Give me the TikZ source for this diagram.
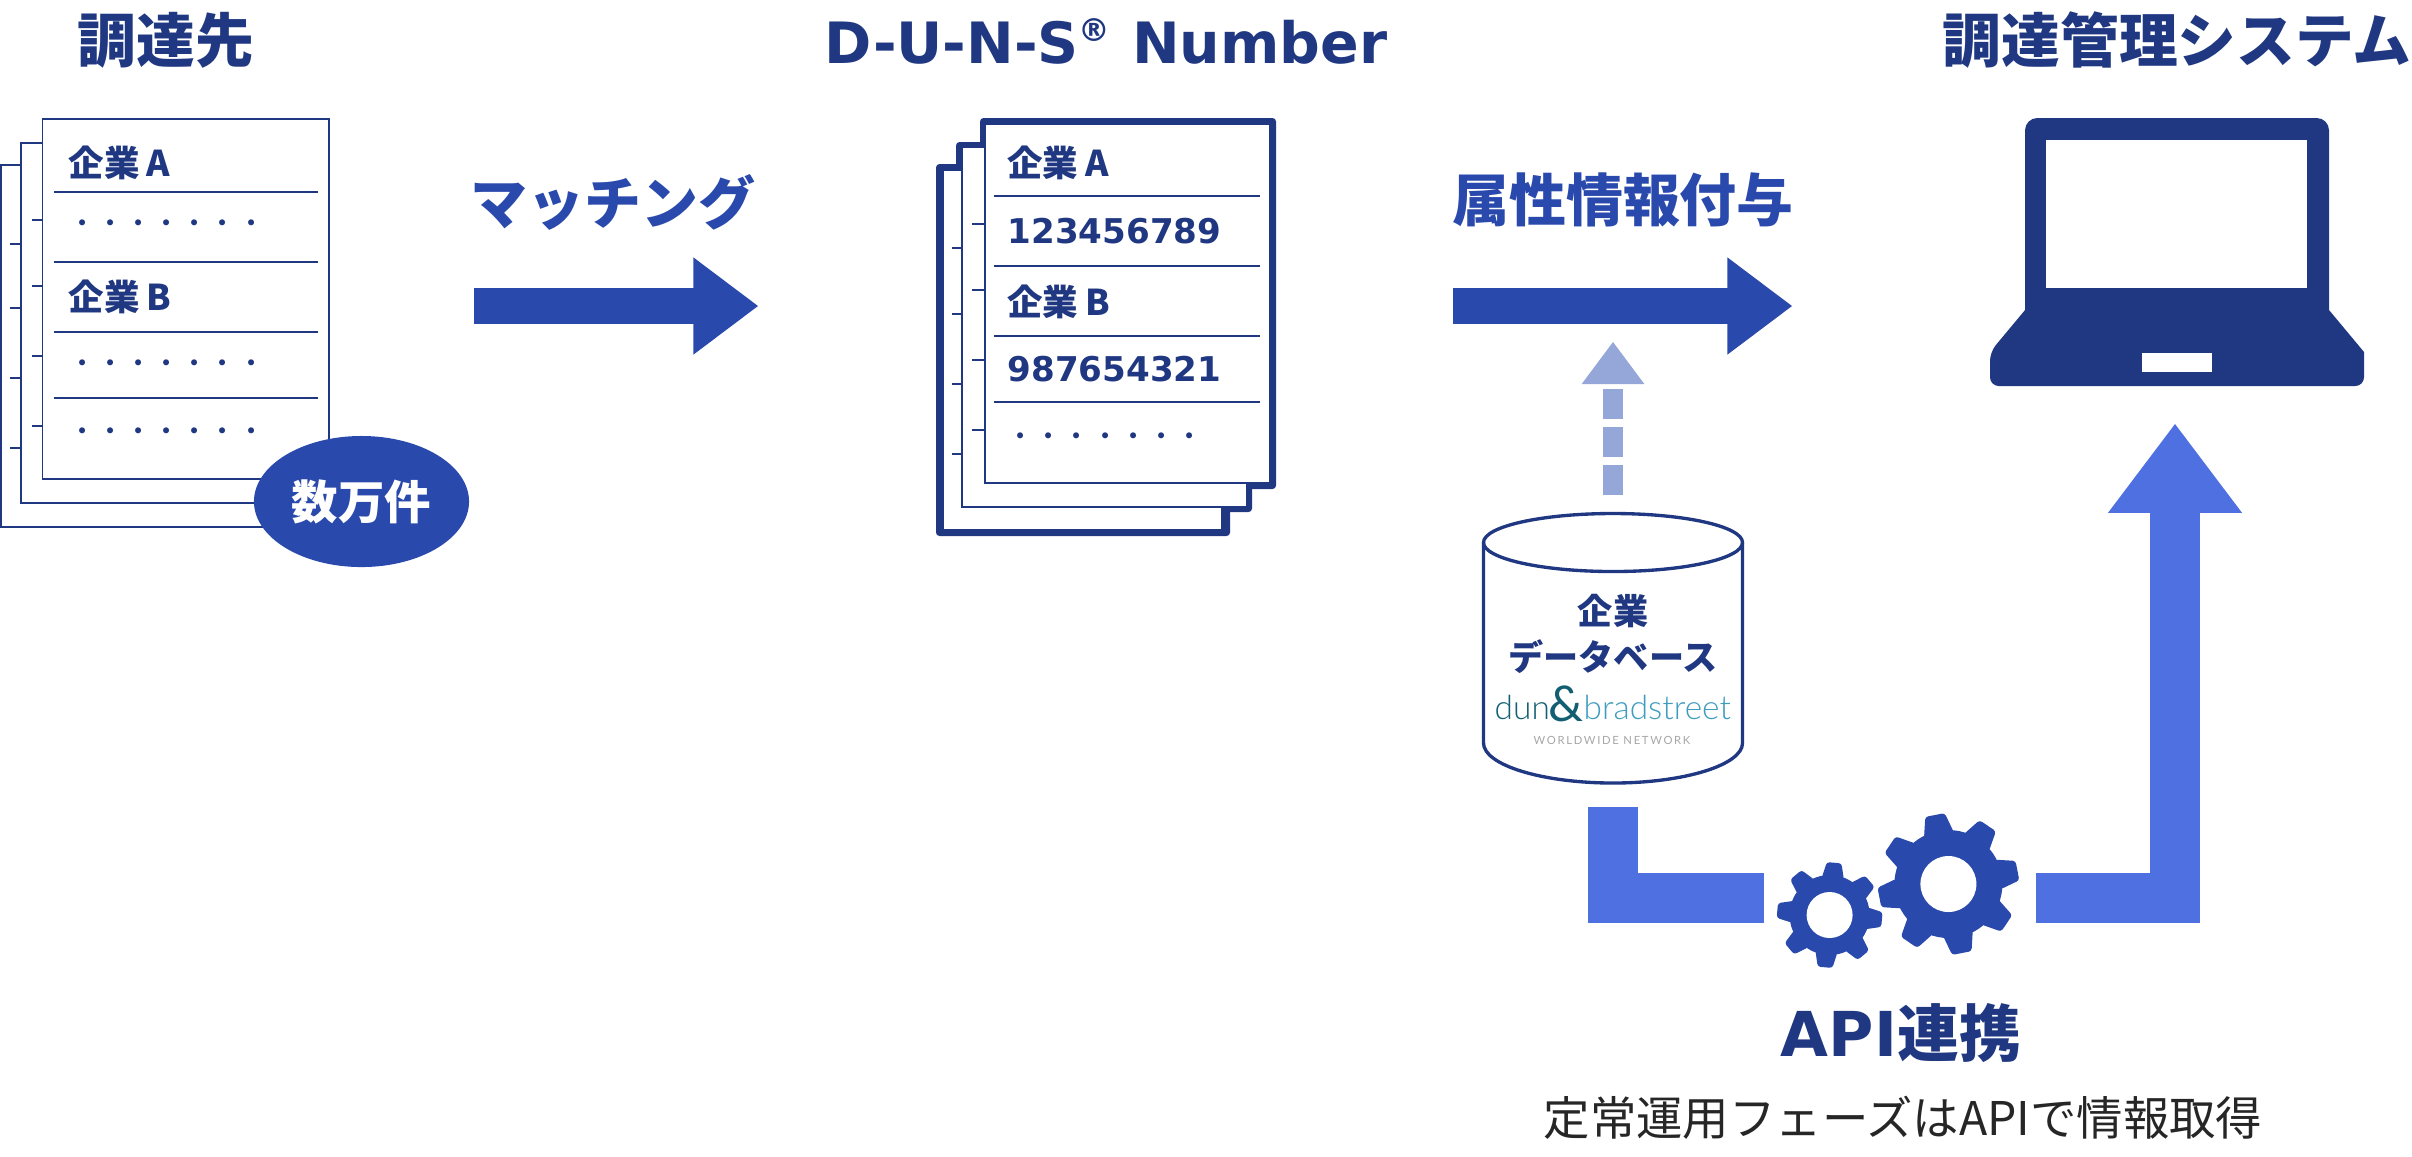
\documentclass[tikz,border=0pt]{standalone}
\usepackage{fontspec}
\setmainfont{Noto Sans CJK JP}
\newfontfamily\numfont{DejaVu Sans}
\newfontfamily\logofont{Lato}[UprightFont=* Light]
\newfontfamily\tagfont{Lato}
\usetikzlibrary{arrows.meta,shapes.geometric}
\definecolor{navy}{HTML}{203882}
\definecolor{midblue}{HTML}{2A49AC}
\definecolor{brightblue}{HTML}{4F70E0}
\definecolor{paleblue}{HTML}{95A6D8}
\definecolor{logodark}{HTML}{125E72}
\definecolor{logolight}{HTML}{3F9CBE}
\tikzset{
  title/.style={text=navy, inner sep=0pt, font=\fontsize{16.7}{18}\selectfont\bfseries},
  actionlabel/.style={text=midblue, inner sep=0pt, font=\fontsize{16.2}{18}\selectfont\bfseries},
  rowlabel/.style={text=navy, anchor=west, inner sep=0pt, font=\fontsize{10.1}{12}\selectfont\bfseries},
  rownumber/.style={text=navy, anchor=west, inner sep=0pt, font=\numfont\fontsize{9.7}{12}\selectfont\bfseries},
  rowdots/.style={text=navy, anchor=west, inner sep=0pt, font=\fontsize{8}{10}\selectfont},
  dbtext/.style={text=navy, inner sep=0pt, font=\fontsize{10}{11}\selectfont\bfseries},
  sheet/.style={draw=navy, fill=white, line width=.5pt},
  rule/.style={draw=navy, line width=.5pt},
  blockarrow/.style={draw=midblue, line width=10.5pt, -{Triangle[width=27.6pt, length=18.4pt, line width=.4pt]}},
  apiarrow/.style={draw=brightblue, line width=14.2pt, line join=miter},
}
% one gear: centre x, y, body radius, tip radius, hole radius, first tooth angle
\newcommand{\gearwheel}[6]{
  \fill[midblue] (#1,#2) circle [radius=#3];
  \foreach \k in {0,...,7}
    \fill[midblue, rounded corners=.8pt, shift={(#1,#2)}]
      ({-(#6)+45*\k-17}:#3-2) -- ({-(#6)+45*\k-8}:#4) -- ({-(#6)+45*\k+8}:#4) -- ({-(#6)+45*\k+17}:#3-2) -- cycle;
  \fill[white] (#1,#2) circle [radius=#5];
}
\begin{document}
\begin{tikzpicture}[x=0.01cm, y=-0.01cm]
  \useasboundingbox (0,0) rectangle (2412,1156);

  % Left stack of sheets
  \draw[sheet] (1,165) rectangle (287,527);
  \foreach \y in {244,308,378,448} \draw[rule] (10,\y) -- (21,\y);
  \draw[sheet] (21,143) rectangle (308,503);
  \foreach \y in {220,286,356,426} \draw[rule] (32,\y) -- (42,\y);
  \draw[sheet] (42.5,119) rectangle (329,479);
  \foreach \y in {192,262,332,398} \draw[rule] (54,\y) -- (318,\y);
  \node[rowlabel] (suppliera) at (68,163) {企業\kern.2em A};
  \node[rowlabel] (supplierb) at (68,297) {企業\kern.2em B};
  \node[rowdots] (dotsa) at (67.6,227) {・・・・・・・};
  \node[rowdots] (dotsb) at (67.6,367) {・・・・・・・};
  \node[rowdots] (dotsc) at (67.6,435) {・・・・・・・};
  \node[ellipse, fill=midblue, minimum width=2.15cm, minimum height=1.31cm, inner sep=0pt, text=white, font=\fontsize{13.2}{15}\selectfont\bfseries] (count) at (361.5,501.5) {数万件};

  % Titles
  \node[title] (suppliers) at (166,40) {調達先};
  \node[title, font=\numfont\fontsize{16.2}{18}\selectfont\bfseries] (duns) at (1106,41) {D-U-N-S\textsuperscript{\fontsize{9}{9}\selectfont ®} Number};
  \node[title] (system) at (2177,40) {調達管理システム};
  \node[actionlabel] (matching) at (613,202) {マッチング};
  \node[actionlabel] (attributes) at (1623,200) {属性情報付与};

  % Arrows
  \coordinate (matchstart) at (474,306);
  \coordinate (matchend) at (758,306);
  \draw[blockarrow] (matchstart) -- (matchend);
  \coordinate (attrstart) at (1453,306);
  \coordinate (attrend) at (1792,306);
  \draw[blockarrow] (attrstart) -- (attrend);

  % Middle stack of sheets
  \fill[navy, rounded corners=1pt] (936,164) rectangle (1230,536);
  \fill[navy, rounded corners=1pt] (956,142) rectangle (1252,512);
  \fill[navy, rounded corners=1pt] (980,118) rectangle (1276,489);
  \draw[sheet] (943,170) rectangle (1222,530);
  \foreach \y in {248,314,384,454} \draw[rule] (952,\y) -- (962,\y);
  \draw[sheet] (962,147) rectangle (1247,507);
  \foreach \y in {224,290,360,430} \draw[rule] (972,\y) -- (985,\y);
  \draw[sheet] (985,124) rectangle (1270,483);
  \foreach \y in {196,266,336,402} \draw[rule] (994,\y) -- (1260,\y);
  \node[rowlabel] (dunsa) at (1006.7,163) {企業\kern.2em A};
  \node[rownumber] (numbera) at (1007,231) {123456789};
  \node[rowlabel] (dunsb) at (1006.7,302) {企業\kern.2em B};
  \node[rownumber] (numberb) at (1007,369) {987654321};
  \node[rowdots] (dotsd) at (1006,440) {・・・・・・・};

  % Laptop
  \fill[navy] (2025,200) [rounded corners=3.5pt] -- (2025,118) -- (2329,118) -- (2329,200) [sharp corners] -- (2329,310) -- (2364,352) [rounded corners=2.5pt] -- (2364,386) -- (1990,386) -- (1990,352) [sharp corners] -- (2025,310) -- cycle;
  \fill[white] (2046,140) rectangle (2307,288);
  \fill[white] (2142,353) rectangle (2212,372);

  % Database
  \node[minimum width=2.59cm, minimum height=2.71cm, inner sep=0pt] (database) at (1613,648.5) {};
  \draw[navy, line width=.95pt] (1483.5,542.5) -- (1483.5,743) .. controls (1483.5,765) and (1542,783) .. (1613,783) .. controls (1684,783) and (1742.5,765) .. (1742.5,743) -- (1742.5,542.5);
  \draw[navy, line width=.95pt] (1613,542.5) ellipse [x radius=129.5, y radius=29];
  \node[dbtext] (dblineone) at (1613,611) {企業};
  \node[dbtext] (dblinetwo) at (1613,657) {データベース};
  \node[anchor=base west, inner sep=0pt, text=logodark, font=\logofont\fontsize{9.5}{11}\selectfont] (dun) at (1494,719) {dun};
  \node[anchor=base west, inner sep=0pt, text=logodark, font=\tagfont\fontsize{14}{11}\selectfont] (amp) at (1548,721) {\&};
  \node[anchor=base west, inner sep=0pt, text=logolight, font=\logofont\fontsize{9.5}{11}\selectfont] (bradstreet) at (1583,719) {bradstreet};
  \node[inner sep=0pt, text=black!35, font=\tagfont\fontsize{3.2}{4}\selectfont\addfontfeature{LetterSpace=15}] (network) at (1612,740) {WORLDWIDE NETWORK};

  % Dashed arrow from the database
  \coordinate (dashend) at (1613,342);
  \draw[draw=paleblue, line width=5.7pt, dash pattern=on 8.54pt off 2.28pt, shorten <=4.8pt, -{Triangle[width=17.9pt, length=12pt, line width=0pt]}] (database.north) -- (dashend);

  % API connectors and gears
  \coordinate (gearleft) at (1764,898);
  \coordinate (gearright) at (2036,898);
  \coordinate (laptoparrow) at (2175,424);
  \draw[apiarrow, shorten <=6.2pt] (database.south) |- (gearleft);
  \draw[apiarrow, -{Triangle[width=38.1pt, length=25.3pt, line width=.4pt]}] (gearright) -| (laptoparrow);
  \gearwheel{1829.6}{915}{40}{53}{23}{85}
  \gearwheel{1948.4}{884}{54}{71}{28}{101}

  % API labels
  \node[text=navy, inner sep=0pt, font=\fontsize{17.6}{20}\selectfont\bfseries] (api) at (1901,1033) {{\numfont API}連携};
  \node[text=black!85, inner sep=0pt, font=\fontsize{13.2}{16}\selectfont] (apinote) at (1903,1118) {定常運用フェーズはAPIで情報取得};
\end{tikzpicture}
\end{document}
